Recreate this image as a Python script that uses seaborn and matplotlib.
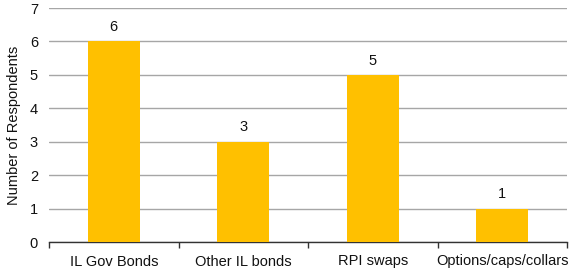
import matplotlib

matplotlib.use("Agg")

import matplotlib.pyplot as plt
import numpy as np
import pandas as pd
import seaborn as sns

categories = ["IL Gov Bonds", "Other IL bonds", "RPI swaps", "Options/caps/collars"]
respondents = [6, 3, 5, 1]

sns.set_theme(style="white")
plt.rcParams["font.family"] = ["Liberation Sans", "DejaVu Sans"]

df = pd.DataFrame({"instrument": categories, "count": respondents})

fig = plt.figure(figsize=(5.70, 2.71), dpi=100)
ax = fig.add_axes([49 / 570, 29 / 271, 518 / 570, 234 / 271])

sns.barplot(data=df, x="instrument", y="count", color="#FFC000", saturation=1,
            width=0.4, linewidth=0, ax=ax, zorder=3)

ax.set_ylim(0, 7)
ax.set_xlim(-0.5, len(categories) - 0.5)
ax.set_yticks(range(0, 8))
ax.yaxis.grid(True, color="#a6a6a6", linewidth=1.0, zorder=0)
ax.set_axisbelow(True)

for i, v in enumerate(respondents):
    ax.text(i, v + 0.22, str(v), ha="center", va="bottom", fontsize=10.5, color="#111111")

# ticks sit on the category boundaries, labels in the middle
ax.set_xticks(np.arange(len(categories)))
ax.set_xticklabels(categories)
ax.set_xticks(np.arange(len(categories) + 1) - 0.5, minor=True)
ax.tick_params(axis="x", which="major", length=0, pad=9, labelsize=10.5, colors="#111111")
ax.tick_params(axis="x", which="minor", length=4, width=1, color="#333333", direction="out",
               bottom=True)
ax.tick_params(axis="y", length=0, pad=8, labelsize=10.5, colors="#111111")

for side in ["top", "right", "left"]:
    ax.spines[side].set_visible(False)
ax.spines["bottom"].set_color("#333333")
ax.spines["bottom"].set_linewidth(1.0)

ax.set_xlabel("")
ax.set_ylabel("Number of Respondents", fontsize=10.5, color="#111111", labelpad=6)

fig.savefig("out.png", dpi=100)
plt.close(fig)
